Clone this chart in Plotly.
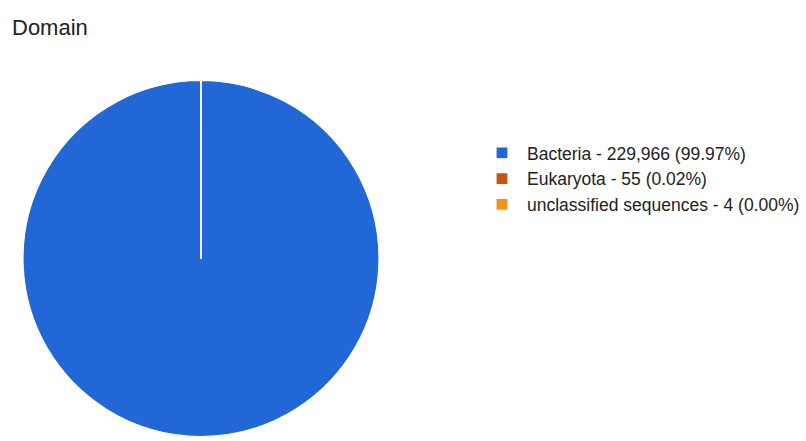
import plotly.graph_objects as go

labels = ["Bacteria", "Eukaryota", "unclassified sequences"]
values = [229966, 55, 4]
percents = ["99.97%", "0.02%", "0.00%"]
colors = ["#2167d6", "#cc4f14", "#f6930c"]

legend_names = [f"{l} - {v:,} ({p})" for l, v, p in zip(labels, values, percents)]

W, H = 806, 441
PW = 380  # plot area width (left part of the figure)
fig = go.Figure(go.Pie(
    labels=legend_names,
    values=values,
    marker=dict(colors=colors, line=dict(color="white", width=1.2)),
    textinfo="none",
    sort=False,
    direction="clockwise",
    rotation=0,
    domain=dict(x=[23 / PW, 379 / PW], y=[1 - 437 / H, 1 - 80 / H]),
    hovertemplate="%{label}<extra></extra>",
))

fig.update_layout(
    width=W, height=H,
    margin=dict(l=0, r=W - PW, t=0, b=0, autoexpand=False),
    paper_bgcolor="white",
    font=dict(family="Arial, Liberation Sans, sans-serif", color="#222222"),
    title=dict(text="Domain", x=12 / W, xanchor="left", xref="container",
               y=1 - 20 / H, yanchor="top", yref="container",
               font=dict(size=22, color="#222222")),
    legend=dict(x=477 / PW, y=1 - 135 / H, xanchor="left", yanchor="top",
                itemwidth=40,
                font=dict(size=17.5, color="#222222"), bgcolor="rgba(0,0,0,0)"),
)

fig.write_html("out.html")
